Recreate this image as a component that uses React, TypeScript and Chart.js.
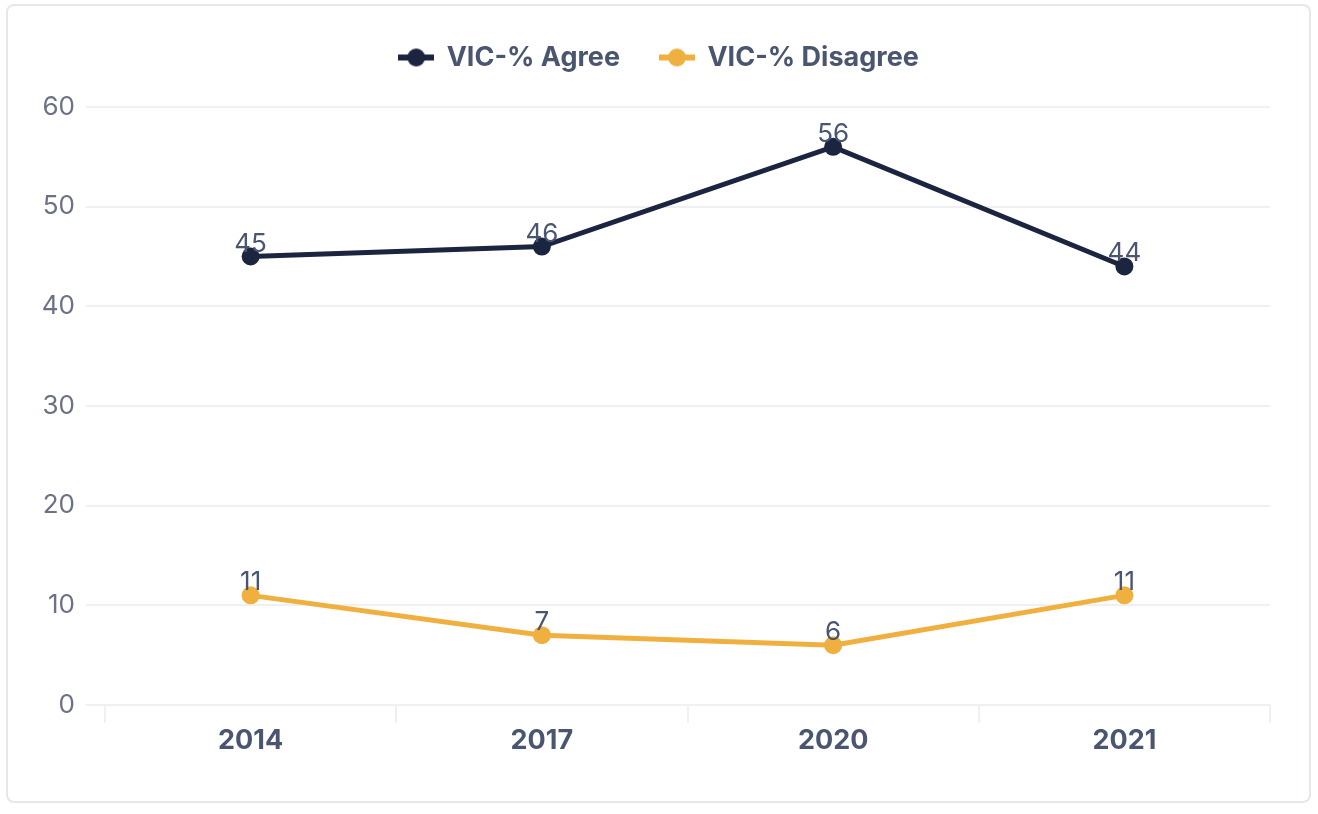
import React, { useEffect, useRef } from "react";
import { Chart, registerables } from "chart.js";

Chart.register(...registerables);

const years = ["2014", "2017", "2020", "2021"];
const agreeValues = [45, 46, 56, 44];
const disagreeValues = [11, 7, 6, 11];
const yTicks = { min: 0, max: 60, step: 10 };

const NAVY = "#1b2540";
const GOLD = "#f0b03f";
const TEXT = "#4a5570";
const TICK = "#6b7285";
const GRID = "#eef0f2";
const FONT = "Inter, 'Noto Sans', sans-serif";

function makeMarker(color: string) {
  const c = document.createElement("canvas");
  c.width = 36;
  c.height = 20;
  const ctx = c.getContext("2d")!;
  ctx.fillStyle = color;
  ctx.fillRect(0, 7, 36, 6);
  ctx.beginPath();
  ctx.arc(18, 10, 9, 0, Math.PI * 2);
  ctx.fill();
  return c;
}

const valueLabels = {
  id: "valueLabels",
  afterDatasetsDraw(chart: any) {
    const ctx = chart.ctx;
    ctx.save();
    ctx.font = `400 26px ${FONT}`;
    ctx.fillStyle = TEXT;
    ctx.textAlign = "center";
    ctx.textBaseline = "alphabetic";
    chart.data.datasets.forEach((ds: any, i: number) => {
      const meta = chart.getDatasetMeta(i);
      meta.data.forEach((pt: any, j: number) => {
        ctx.fillText(String(ds.data[j]), pt.x, pt.y - 5);
      });
    });
    ctx.restore();
  },
};

const legendSpacer = {
  id: "legendSpacer",
  beforeLayout(chart: any) {
    const legend = chart.legend;
    if (legend && !legend._spacerPatched) {
      const orig = legend.fit;
      legend.fit = function () {
        orig.call(this);
        this.height += 26;
      };
      legend._spacerPatched = true;
    }
  },
  afterLayout(chart: any) {
    const legend = chart.legend;
    if (legend) {
      legend.left += 14;
      legend.right += 14;
    }
  },
};

export default function App() {
  const ref = useRef<HTMLCanvasElement>(null);
  useEffect(() => {
    if (!ref.current) return;
    const markers = [makeMarker(NAVY), makeMarker(GOLD)];
    const chart = new Chart(ref.current, {
      type: "line",
      data: {
        labels: years,
        datasets: [
          {
            label: "VIC-% Agree",
            data: agreeValues,
            borderColor: NAVY,
            backgroundColor: NAVY,
            borderWidth: 5,
            pointRadius: 9,
            pointHoverRadius: 9,
            pointBackgroundColor: NAVY,
            pointBorderWidth: 0,
            tension: 0,
          },
          {
            label: "VIC-% Disagree",
            data: disagreeValues,
            borderColor: GOLD,
            backgroundColor: GOLD,
            borderWidth: 5,
            pointRadius: 9,
            pointHoverRadius: 9,
            pointBackgroundColor: GOLD,
            pointBorderWidth: 0,
            tension: 0,
          },
        ],
      },
      options: {
        responsive: false,
        devicePixelRatio: 1,
        animation: false,
        layout: { padding: { left: 20, right: 48, top: 4, bottom: 0 } },
        plugins: {
          tooltip: { enabled: false },
          legend: {
            position: "top",
            labels: {
              usePointStyle: true,
              pointStyleWidth: 34,
              padding: 40,
              color: TEXT,
              font: { family: FONT, size: 27, weight: "bold" },
              generateLabels(chart: any) {
                return chart.data.datasets.map((ds: any, i: number) => ({
                  text: ds.label,
                  fillStyle: ds.borderColor,
                  strokeStyle: ds.borderColor,
                  lineWidth: 0,
                  pointStyle: markers[i],
                  datasetIndex: i,
                  hidden: false,
                  fontColor: TEXT,
                }));
              },
            },
          },
        },
        scales: {
          x: {
            offset: true,
            grid: {
              offset: true,
              drawOnChartArea: false,
              drawTicks: true,
              tickLength: 18,
              color: GRID,
              lineWidth: 2,
            },
            border: { display: false },
            ticks: {
              color: TEXT,
              padding: 2,
              font: { family: FONT, size: 27, weight: "bold" },
            },
            afterFit(scale: any) {
              scale.height = 109;
            },
          },
          y: {
            min: yTicks.min,
            max: yTicks.max,
            grid: {
              color: GRID,
              lineWidth: 2,
              drawTicks: true,
              tickLength: 19,
            },
            border: { display: false },
            ticks: {
              stepSize: yTicks.step,
              color: TICK,
              padding: 11,
              font: { family: FONT, size: 26 },
            },
            afterFit(scale: any) {
              scale.width = 85;
            },
          },
        },
      },
      plugins: [legendSpacer, valueLabels],
    });
    return () => chart.destroy();
  }, []);
  return (
    <div style={{ position: "absolute", left: 0, top: 0, width: 1318, height: 814, background: "#fff" }}>
      <div
        style={{
          position: "absolute",
          left: 6,
          top: 4,
          width: 1305,
          height: 799,
          boxSizing: "border-box",
          border: "2px solid #e6e7eb",
          borderRadius: 8,
          background: "#fff",
        }}
      />
      <canvas ref={ref} width={1318} height={814} style={{ position: "absolute", left: 0, top: 0 }} />
    </div>
  );
}
